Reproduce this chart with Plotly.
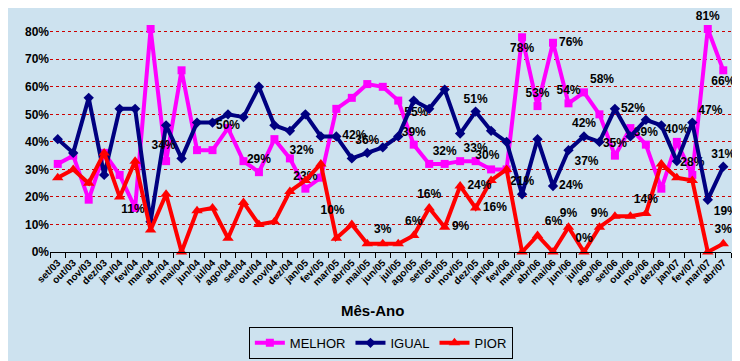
import plotly.graph_objects as go

months = ["set/03","out/03","nov/03","dez/03","jan/04","fev/04","mar/04","abr/04","mai/04","jun/04",
          "jul/04","ago/04","set/04","out/04","nov/04","dez/04","jan/05","fev/05","mar/05","abr/05",
          "mai/05","jun/05","jul/05","ago/05","set/05","out/05","nov/05","dez/05","jan/06","fev/06",
          "mar/06","abr/06","mai/06","jun/06","jul/06","ago/06","set/06","out/06","nov/06","dez/06",
          "jan/07","fev/07","mar/07","abr/07"]

melhor = [32,35,19,36,28,16,81,33,66,37,37,45,33,29,41,34,23,27,52,56,61,60,55,39,32,32,33,33,30,30,
          78,53,76,54,58,50,35,45,39,23,40,28,81,66]
igual = [41,36,56,28,52,52,11,46,34,47,47,50,49,60,46,44,50,42,42,34,36,38,42,55,52,59,43,51,44,40,
         21,41,24,37,42,40,52,42,48,46,33,47,19,31]
pior = [27,30,25,36,20,33,8,21,0,15,16,5,18,10,11,22,26,32,5,10,3,3,3,6,16,9,24,16,26,30,
        0,6,0,9,0,9,13,13,14,32,27,26,0,3]

y_ticks = [0,10,20,30,40,50,60,70,80]

# which points carry a data label, and where the label sits
melhor_labels = {13:"top center",16:"top center",22:"bottom right",23:"top center",25:"top center",
                 27:"top center",30:"bottom center",31:"top center",32:"middle right",33:"top center",
                 34:"top right",36:"top center",38:"top center",40:"top center",41:"top center",
                 42:"top center",43:"bottom center"}
igual_labels = {6:"top left",8:"top left",11:"bottom center",18:"middle right",20:"top center",
                27:"top center",30:"top center",32:"middle right",33:"bottom right",34:"top center",
                36:"middle right",41:"top right",42:"bottom right",43:"top center"}
pior_labels = {17:"top left",19:"top left",21:"top center",23:"top center",24:"top center",
               25:"middle right",26:"middle right",27:"middle right",29:"top left",31:"top right",
               33:"top center",34:"top center",35:"top center",38:"top center",43:"top center"}

def texts(vals, labels):
    return [f"{v}%" if i in labels else "" for i, v in enumerate(vals)]

def positions(vals, labels):
    return [labels.get(i, "top center") for i in range(len(vals))]

FONT = "Liberation Sans, Arial, sans-serif"

fig = go.Figure()
series = [
    ("MELHOR", melhor, melhor_labels, "#FF00FF", "square", 8),
    ("IGUAL", igual, igual_labels, "#000080", "diamond", 8),
    ("PIOR", pior, pior_labels, "#FF0000", "triangle-up", 10),
]
for name, vals, labels, color, symbol, msize in series:
    fig.add_trace(go.Scatter(
        x=months, y=vals, name=name, mode="lines+markers+text",
        line=dict(color=color, width=4),
        marker=dict(color=color, symbol=symbol, size=msize),
        text=texts(vals, labels), textposition=positions(vals, labels),
        textfont=dict(family=FONT, size=12, color="#000000", weight="bold"),
        cliponaxis=False,
    ))

fig.update_layout(
    width=740, height=361,
    margin=dict(l=42, r=17, t=10, b=109),
    paper_bgcolor="#cde2ef",
    plot_bgcolor="#cde2ef",
    font=dict(family=FONT, color="#000000"),
    showlegend=True,
    legend=dict(orientation="h", x=0.292, xanchor="left", y=-0.32, yanchor="top",
                bordercolor="#000000", borderwidth=1, bgcolor="rgba(0,0,0,0)",
                font=dict(family=FONT, size=13), itemwidth=30, tracegroupgap=0),
    annotations=[dict(text="Mês-Ano", x=0.474, xref="paper", y=-0.25, yref="paper",
                      yanchor="middle", showarrow=False,
                      font=dict(family=FONT, size=15, weight="bold"))],
)
fig.update_xaxes(
    type="category", showgrid=False, showline=True, linecolor="#000000", linewidth=1,
    ticks="outside", tickson="boundaries", ticklen=5, tickcolor="#000000",
    tickangle=-45, tickfont=dict(family=FONT, size=10, weight="bold"),
    range=[-0.5, len(months) - 0.5],
)
fig.update_yaxes(
    range=[0, 85], tickvals=y_ticks, ticktext=[f"{t}%" for t in y_ticks],
    showgrid=True, gridcolor="#cc0000", griddash="dot", gridwidth=1,
    showline=False, zeroline=False, ticks="",
    tickfont=dict(family=FONT, size=12, weight="bold"),
)

fig.write_html("out.html")
